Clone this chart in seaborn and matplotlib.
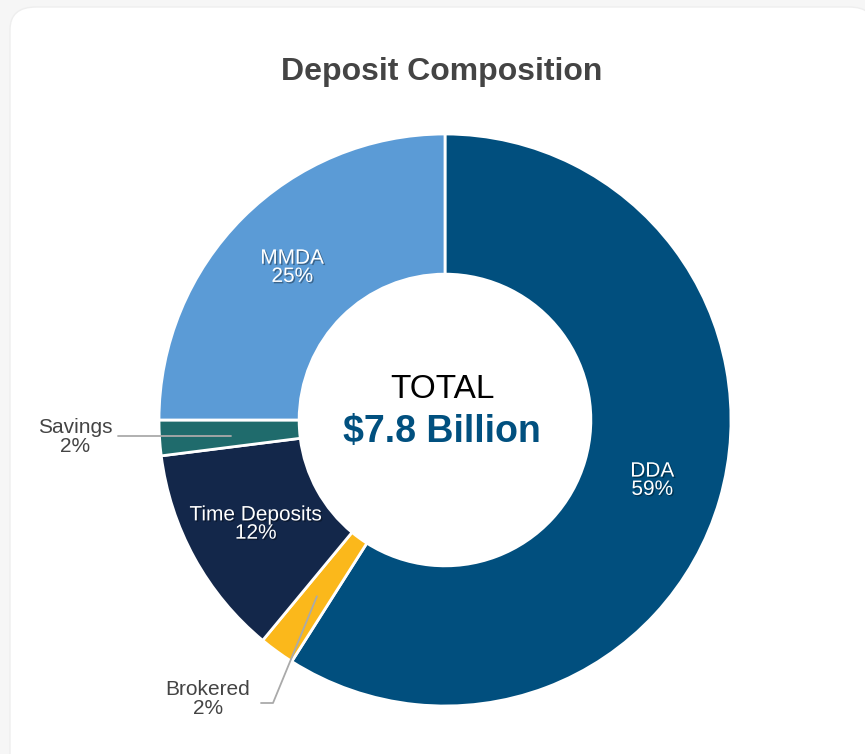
import numpy as np
import seaborn as sns
import matplotlib.pyplot as plt
import matplotlib.patheffects as pe
from matplotlib.patches import FancyBboxPatch

categories = ['DDA', 'Brokered', 'Time Deposits', 'Savings', 'MMDA']
shares = [59, 2, 12, 2, 25]
colors = ['#014f7e', '#fbb81b', '#13274a', '#1f6b6c', '#5b9bd6']
inside = ['DDA', 'Time Deposits', 'MMDA']

sns.set_style('white')
plt.rcParams['font.family'] = ['Liberation Sans', 'DejaVu Sans']

W, H = 865, 754
CX, CY, R = 445, 420, 286


def px(x, y):
    # pixel position -> data coords of the donut axes
    return (x - CX) / R, (CY - y) / R


fig = plt.figure(figsize=(W / 100, H / 100), dpi=100, facecolor='#f6f6f6')
ax = fig.add_axes([0, 0, 1, 1])
ax.set_facecolor('none')

# white card with rounded corners, behind the donut
card = FancyBboxPatch((10 / W, -0.05), 1.0, 1.05 - 7 / H,
                      boxstyle='round,pad=0,rounding_size=0.03',
                      transform=fig.transFigure, facecolor='white',
                      edgecolor='#eeeeee', linewidth=1, zorder=-10, clip_on=False)
ax.add_artist(card)

wedges, _ = ax.pie(shares, colors=colors, startangle=90, counterclock=False,
                   radius=1.0, wedgeprops=dict(width=0.49, edgecolor='white', linewidth=2))
ax.set_xlim(-CX / R, (W - CX) / R)
ax.set_ylim(-(H - CY) / R, CY / R)
ax.set_aspect('auto')
ax.axis('off')

shadow = [pe.SimplePatchShadow(offset=(1, -1), shadow_rgbFace='black', alpha=0.35), pe.Normal()]

for w, name, val in zip(wedges, categories, shares):
    mid = np.deg2rad((w.theta1 + w.theta2) / 2)
    dx, dy = np.cos(mid), np.sin(mid)
    if name in inside:
        t = ax.text(0.755 * dx, 0.755 * dy, f'{name}\n{val}%', ha='center', va='center',
                    color='white', fontsize=15, linespacing=0.95)
        t.set_path_effects(shadow)
    elif name == 'Savings':
        x0, y0 = 0.75 * dx, 0.75 * dy
        xe, ye = px(118, 436)
        ax.plot([x0, xe], [ye, ye], color='#aaaaaa', lw=1.3)
        tx, ty = px(75, 437)
        ax.text(tx, ty, f'{name}\n{val}%', ha='center', va='center',
                color='#444444', fontsize=15, linespacing=0.95)
    else:
        x0, y0 = 0.762 * dx, 0.762 * dy
        x1, y1 = px(273, 703)
        xe, _ = px(261, 703)
        ax.plot([x0, x1, xe], [y0, y1, y1], color='#aaaaaa', lw=1.3)
        tx, ty = px(208, 699)
        ax.text(tx, ty, f'{name}\n{val}%', ha='center', va='center',
                color='#444444', fontsize=15, linespacing=0.95)

ax.text(*px(442, 390), 'TOTAL', ha='center', va='center', fontsize=24, color='black')
ax.text(*px(442, 432), '$7.8 Billion', ha='center', va='center', fontsize=27,
        fontweight='bold', color='#01507f')

fig.text(442 / W, 1 - 72 / H, 'Deposit Composition', ha='center', va='center',
         fontsize=23, fontweight='bold', color='#444444')

fig.savefig('out.png', dpi=100, facecolor=fig.get_facecolor())
